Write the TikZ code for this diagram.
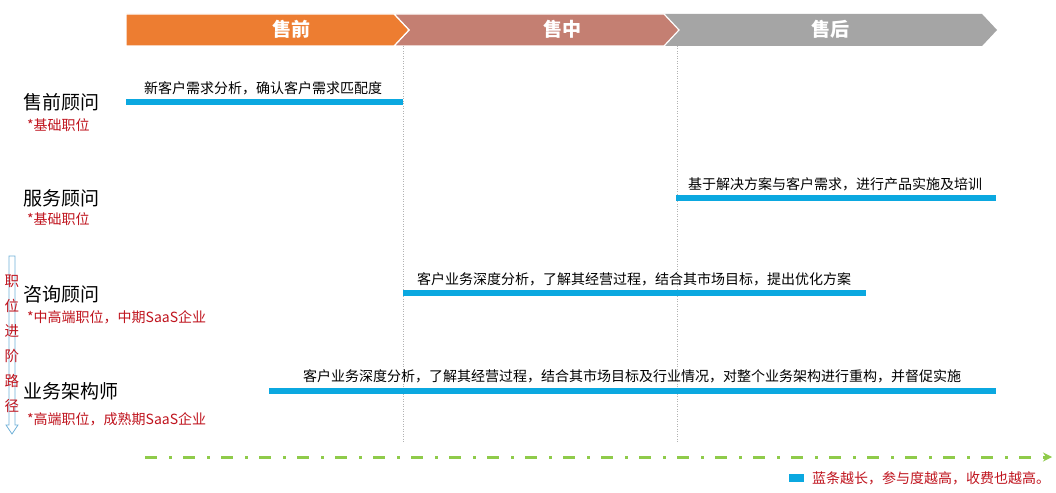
\documentclass[tikz,border=0pt]{standalone}
\usepackage{fontspec}
\setmainfont{Noto Sans CJK SC}
\usetikzlibrary{arrows.meta}
\definecolor{cOrange}{HTML}{ED7D31}
\definecolor{cSalmon}{HTML}{C47F72}
\definecolor{cGray}{HTML}{A5A5A5}
\definecolor{cBlue}{HTML}{0BA8E0}
\definecolor{cRed}{HTML}{C0141E}
\definecolor{cGreen}{HTML}{8FCB4A}
\definecolor{cArrow}{HTML}{6FB0D8}
\tikzset{
  phase/.style={draw=white,line width=1.2pt},
  phaselabel/.style={text=white,font=\fontsize{19}{19}\selectfont\bfseries,inner sep=0pt},
  bar/.style={cBlue,line width=6pt},
  bartext/.style={font=\fontsize{14}{14}\selectfont,inner sep=0pt,anchor=base},
  role/.style={font=\fontsize{19}{19}\selectfont,inner sep=0pt,anchor=west},
  level/.style={text=cRed,font=\fontsize{14}{14}\selectfont,inner sep=0pt,anchor=west},
  guide/.style={gray!60,line width=0.5pt,dotted},
  vchar/.style={text=cRed,font=\fontsize{14.5}{14}\selectfont,inner sep=0pt}
}
\begin{document}
\begin{tikzpicture}[x=1pt,y=-1pt]
\useasboundingbox[fill=white] (0,0) rectangle (1056,492);
% phase chevrons
\fill[cGray] (664,14)--(982,14)--(997,30)--(982,46)--(664,46)--(679,30)--cycle;
\filldraw[phase,fill=cSalmon] (394,14)--(664,14)--(679,30)--(664,46)--(394,46)--(409,30)--cycle;
\filldraw[phase,fill=cOrange] (126,14)--(394,14)--(409,30)--(394,46)--(126,46)--cycle;
\node[phaselabel] (p1) at (291,29) {售前};
\node[phaselabel] (p2) at (562,29) {售中};
\node[phaselabel] (p3) at (830,29) {售后};
% guides
\coordinate (g1a) at (403,46); \coordinate (g1b) at (403,443);
\coordinate (g2a) at (677,46); \coordinate (g2b) at (677,443);
\draw[guide] (g1a) -- (g1b);
\draw[guide] (g2a) -- (g2b);
% roles
\node[role] (r1) at (23,102) {售前顾问};
\node[level] (l1) at (27,125) {*基础职位};
\node[role] (r2) at (23,198) {服务顾问};
\node[level] (l2) at (27,219) {*基础职位};
\node[role] (r3) at (23,294) {咨询顾问};
\node[level] (l3) at (27,317) {*中高端职位，中期SaaS企业};
\node[role] (r4) at (23,391) {业务架构师};
\node[level] (l4) at (27,419) {*高端职位，成熟期SaaS企业};
% bars
\coordinate (b1a) at (126,102); \coordinate (b1b) at (403,102);
\coordinate (b2a) at (676,198); \coordinate (b2b) at (996,198);
\coordinate (b3a) at (403,293); \coordinate (b3b) at (866,293);
\coordinate (b4a) at (269,391); \coordinate (b4b) at (996,391);
\draw[bar] (b1a) -- (b1b);
\draw[bar] (b2a) -- (b2b);
\draw[bar] (b3a) -- (b3b);
\draw[bar] (b4a) -- (b4b);
\node[bartext] (t1) at (263,94) {新客户需求分析，确认客户需求匹配度};
\node[bartext] (t2) at (835,189) {基于解决方案与客户需求，进行产品实施及培训};
\node[bartext] (t3) at (634,284) {客户业务深度分析，了解其经营过程，结合其市场目标，提出优化方案};
\node[bartext] (t4) at (632,381) {客户业务深度分析，了解其经营过程，结合其市场目标及行业情况，对整个业务架构进行重构，并督促实施};
% vertical hollow arrow
\draw[cArrow,line width=0.8pt] (9,256)--(15,256)--(15,425)--(18,425)--(12,434)--(6,425)--(9,425)--cycle;
\foreach \c [count=\i] in {职,位,进,阶,路,径}{
  \node[vchar] (v\i) at (12,256+25*\i) {\c};
}
% green axis
\coordinate (ga) at (145,457); \coordinate (gb) at (1052,457);
\draw[cGreen,line width=3pt,dash pattern=on 12pt off 12pt on 3pt off 11pt,-{Stealth[length=9pt,width=9pt]}] (ga) -- (gb);
% legend
\fill[cBlue] (789,474) rectangle (804,482);
\node[text=cRed,font=\fontsize{14}{14}\selectfont,inner sep=0pt,anchor=west] (leg) at (812,478) {蓝条越长，参与度越高，收费也越高。};
\end{tikzpicture}
\end{document}
